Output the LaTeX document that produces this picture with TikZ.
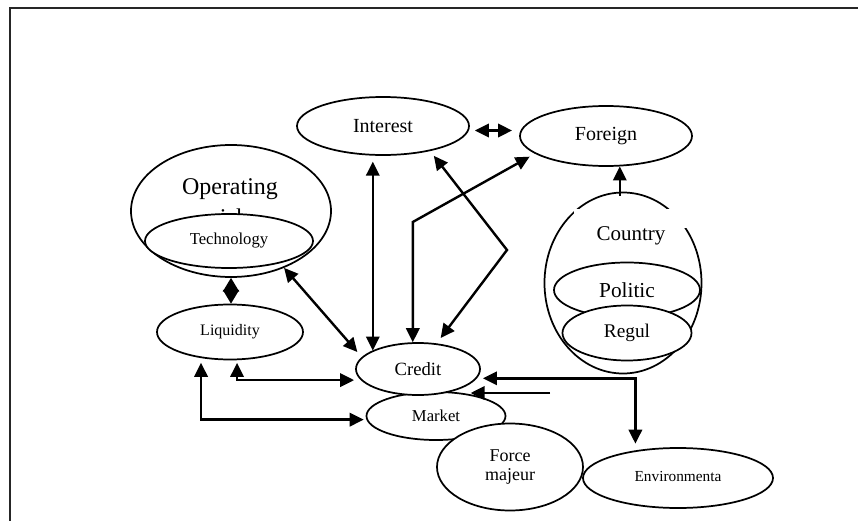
\documentclass[tikz,border=0pt]{standalone}
\usepackage{fontspec}
\setmainfont{Liberation Serif}
\usetikzlibrary{arrows.meta,shapes.geometric,calc}
\begin{document}
\begin{tikzpicture}[x=0.75pt,y=-0.75pt,
  ell/.style={ellipse, draw, line width=1.3pt, fill=white, inner sep=0pt, align=center},
  conn/.style={line width=1.8pt, -{Triangle[length=10.5pt,width=10pt]}},
  bconn/.style={line width=1.8pt, {Triangle[length=10.5pt,width=10pt]}-{Triangle[length=10.5pt,width=10pt]}},
  lbl/.style={inner sep=0pt}
  ]
\useasboundingbox (0,0) rectangle (858,521);
\draw[line width=1.6pt, black!85] (10,521) -- (10,8) -- (858,8);

% Operating risk group
\node[ell, minimum width=150pt, minimum height=99pt] (Operating) at (231,211) {};
\node[lbl, font=\fontsize{18}{20}\selectfont, anchor=base] (OpText) at (230,194) {Operating};
\node[lbl, font=\fontsize{18}{20}\selectfont, anchor=base] (RiskText) at (230,225) {risk};
\node[ell, minimum width=126pt, minimum height=40.5pt, font=\fontsize{12.5}{14}\selectfont] (Technology) at (229,241) {Technology};

\node[ell, minimum width=109.5pt, minimum height=41.25pt, font=\fontsize{12}{14}\selectfont] (Liquidity) at (230,332) {Liquidity};
\node[ell, minimum width=129pt, minimum height=43.5pt, font=\fontsize{15}{17}\selectfont] (Interest) at (383,126) {Interest};
\node[ell, minimum width=129pt, minimum height=45pt, font=\fontsize{15}{17}\selectfont] (Foreign) at (606,136) {Foreign};

% Country group
\node[ell, minimum width=117.75pt, minimum height=135.75pt] (Country) at (623,283) {};
\fill[white] (574,209) rectangle (690,228);
\node[lbl, font=\fontsize{15.75}{18}\selectfont] (CountryText) at (631,236) {Country};
\node[ell, minimum width=109.5pt, minimum height=41.25pt, font=\fontsize{16}{18}\selectfont] (Politic) at (627,290) {\raisebox{-3.5pt}{Politic}};
\node[ell, minimum width=96.75pt, minimum height=41.25pt, font=\fontsize{14.5}{17}\selectfont] (Regul) at (627,333) {Regul};

\node[ell, minimum width=104.25pt, minimum height=36pt, font=\fontsize{12.5}{15}\selectfont] (Market) at (436,416) {Market};
\node[ell, minimum width=93pt, minimum height=39pt, font=\fontsize{14}{16}\selectfont] (Credit) at (418,369) {Credit};
\node[ell, minimum width=109.5pt, minimum height=65.25pt, font=\fontsize{13.5}{14.5}\selectfont] (Force) at (510,467) {Force\\majeur};
\node[ell, minimum width=142.5pt, minimum height=45pt, font=\fontsize{11.5}{14}\selectfont] (Environment) at (678,478) {\raisebox{2pt}{Environmenta}};

\coordinate (b2) at (413,222);
\coordinate (b3) at (507,250);
\coordinate (s8) at (550,393);

\draw[bconn, shorten <=4.5pt] (Interest.251) -- (Interest.251 |- Credit.158);
\draw[bconn, shorten >=4.5pt] (Credit.101) -- (Credit.101 |- b2) -- (Foreign.194);
\draw[bconn, shorten <=4.5pt, shorten >=5pt] (Interest.332) -- (b3) -- (Credit.54);
\draw[bconn, shorten >=5pt] (Operating.313) -- (Credit.168);
\draw[bconn, shorten <=2pt, shorten >=5pt] (Liquidity.284) -- (Liquidity.284 |- Credit.191) -- (Credit.191);
\draw[bconn, shorten <=3.5pt, shorten >=2pt] (Liquidity.222) -- (Liquidity.222 |- Market.183) -- (Market.183);
\draw[bconn, shorten <=4.5pt, shorten >=5pt] (Credit.351) -- (Environment.147 |- Credit.351) -- (Environment.147);
\draw[conn] (s8) -- (Market.32 |- s8);
\draw[bconn, shorten <=4.5pt, shorten >=6pt] (Interest.357) -- (Interest.357 -| Foreign.177);
\draw[conn, shorten <=-3pt] (Country.92) -- (Country.92 |- Foreign.295);
\draw[line width=1.5pt, {Triangle[length=10.3pt,width=12pt]}-{Triangle[length=10.3pt,width=12pt]}] (Operating.south) -- (Operating.south |- Liquidity.north);
\end{tikzpicture}
\end{document}
